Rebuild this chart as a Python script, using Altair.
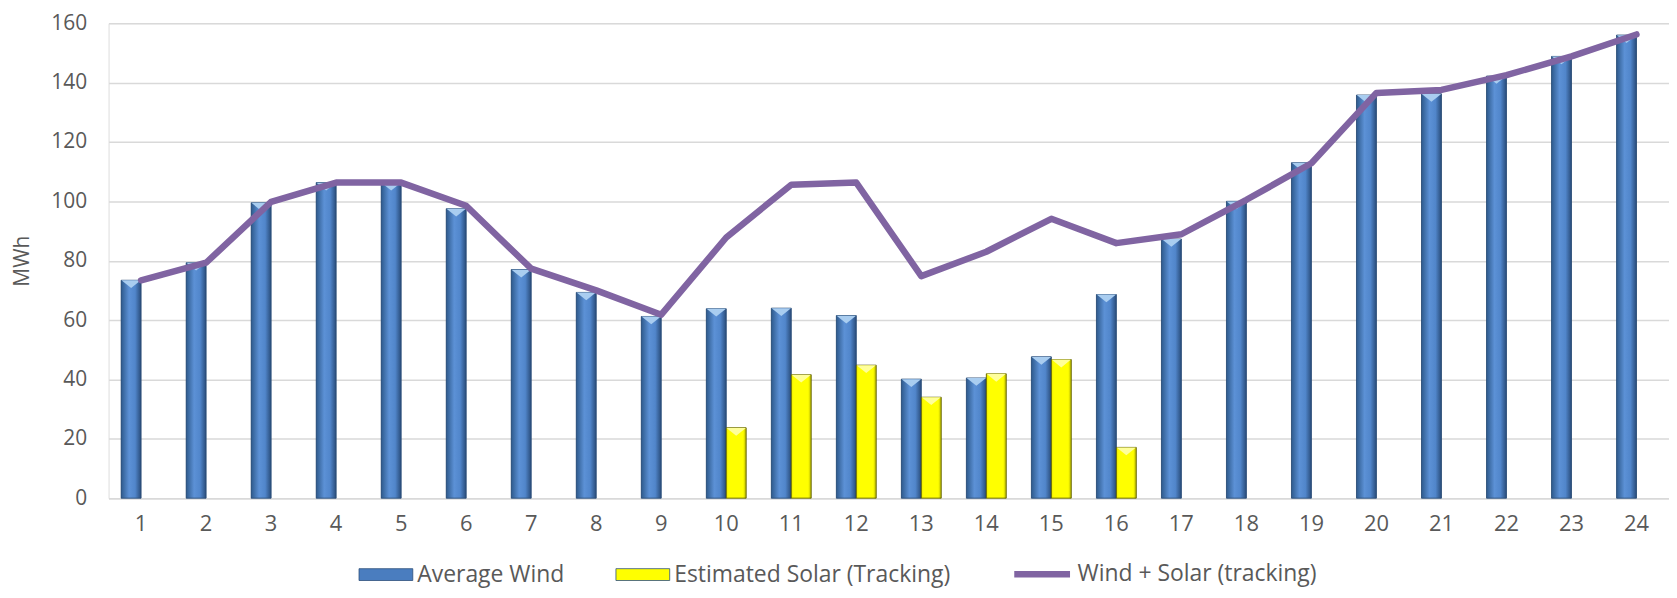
import altair as alt
import pandas as pd

hours = list(range(1, 25))
wind = [73.4, 79.3, 99.5, 106.3, 106.3, 97.5, 77.0, 69.3, 61.2, 63.8, 64.0, 61.5,
        40.1, 40.5, 47.6, 68.6, 87.3, 100.0, 113.0, 135.8, 136.2, 142.2, 148.8, 156.0]
solar_hours = [10, 11, 12, 13, 14, 15, 16]
solar = [23.7, 41.6, 44.8, 34.0, 41.9, 46.7, 17.1]
combined = [73.4, 79.3, 99.8, 106.3, 106.3, 98.5, 77.3, 70.0, 61.8, 87.8, 105.6, 106.3,
            74.8, 83.0, 94.1, 85.9, 88.9, 100.5, 112.8, 136.5, 137.5, 142.5, 148.8, 156.2]

W = "Average Wind"
S = "Estimated Solar (Tracking)"
L = "Wind + Solar (tracking)"

bars = pd.DataFrame(
    {"hour": hours + solar_hours,
     "series": [W] * len(hours) + [S] * len(solar_hours),
     "value": wind + solar}
)
line_df = pd.DataFrame({"hour": hours, "value": combined, "name": [L] * len(hours)})

FONT = "Open Sans"
TXT = "#595959"
LEG_Y = 526
LEG_FS = 23

x_enc = alt.X("hour:O", scale=alt.Scale(paddingInner=0.387, paddingOuter=0.1935),
              axis=alt.Axis(labelAngle=0, domainColor="#d9d9d9", domainWidth=1.5, ticks=False,
                            labelFontSize=22, labelColor=TXT, labelPadding=15, title=None,
                            labelFont=FONT))
xoff = alt.XOffset("series:N", scale=alt.Scale(domain=[W, S], paddingInner=0, paddingOuter=0))
y_enc = alt.Y("value:Q", scale=alt.Scale(domain=[0, 160]),
              axis=alt.Axis(values=list(range(0, 161, 20)), grid=True, gridColor="#d9d9d9",
                            gridWidth=1.5, domain=False, ticks=False, labelFontSize=21,
                            labelColor=TXT, labelPadding=22, labelFont=FONT, title="MWh",
                            titleFontSize=21, titleFontWeight="normal", titleColor=TXT,
                            titleFont=FONT, titlePadding=18))

wind_grad = alt.LinearGradient(
    gradient="linear", x1=0, x2=1, y1=0, y2=0,
    stops=[alt.GradientStop(color="#2e5a8c", offset=0),
           alt.GradientStop(color="#5c91d6", offset=0.4),
           alt.GradientStop(color="#5186cb", offset=0.7),
           alt.GradientStop(color="#294c7a", offset=1)])
solar_grad = alt.LinearGradient(
    gradient="linear", x1=0, x2=1, y1=0, y2=0,
    stops=[alt.GradientStop(color="#e8e800", offset=0),
           alt.GradientStop(color="#ffff00", offset=0.12),
           alt.GradientStop(color="#ffff00", offset=0.85),
           alt.GradientStop(color="#b5b500", offset=1)])

base = alt.Chart(bars)

legend_bars = base.mark_bar().encode(
    x=x_enc, xOffset=xoff, y=y_enc,
    color=alt.Color("series:N", scale=alt.Scale(domain=[W, S], range=["#4a7dbf", "#ffff00"]),
                    legend=alt.Legend(orient="none", legendX=251, legendY=LEG_Y,
                                      direction="horizontal", title=None,
                                      symbolType="M-1,-0.22H1V0.22H-1Z", symbolSize=2916,
                                      symbolStrokeColor="#2d4f7a", symbolStrokeWidth=0.8,
                                      labelFontSize=LEG_FS, labelFont=FONT, labelColor=TXT,
                                      labelLimit=0, labelOffset=4, columnPadding=49)),
)

wind_bars = base.transform_filter(alt.datum.series == W).mark_bar(
    fill=wind_grad, stroke="#2a4a72", strokeWidth=0.8
).encode(x=x_enc, xOffset=xoff, y=y_enc)

solar_bars = base.transform_filter(alt.datum.series == S).mark_bar(
    fill=solar_grad, stroke="#4a4a00", strokeWidth=0.8
).encode(x=x_enc, xOffset=xoff, y=y_enc)

bevel_w = base.transform_filter(alt.datum.series == W).mark_point(
    shape="M-1,-0.4L1,-0.4L0,0.4Z", filled=True, size=380, color="#a9cdf0",
    opacity=1, yOffset=4, strokeWidth=0
).encode(x=x_enc, xOffset=xoff, y=y_enc)

bevel_s = base.transform_filter(alt.datum.series == S).mark_point(
    shape="M-1,-0.4L1,-0.4L0,0.4Z", filled=True, size=380, color="#ffff9a",
    opacity=1, yOffset=4, strokeWidth=0
).encode(x=x_enc, xOffset=xoff, y=y_enc)

line = alt.Chart(line_df).mark_line(strokeWidth=6.5, strokeJoin="round", strokeCap="round").encode(
    x=x_enc, y=y_enc,
    color=alt.Color("name:N", scale=alt.Scale(domain=[L], range=["#8064a2"]),
                    legend=alt.Legend(orient="none", legendX=906, legendY=LEG_Y - 4,
                                      direction="horizontal", title=None,
                                      symbolType="stroke", symbolSize=3136,
                                      symbolStrokeWidth=6.5,
                                      labelFontSize=LEG_FS, labelFont=FONT, labelColor=TXT,
                                      labelLimit=0, labelOffset=4)),
)

chart = alt.layer(legend_bars, wind_bars, solar_bars, bevel_w, bevel_s, line).resolve_scale(
    color="independent"
).properties(
    width=1567, height=477,
    autosize=alt.AutoSizeParams(type="none"),
    padding={"left": 101, "top": 14, "right": 0, "bottom": 91},
).configure_view(stroke=None).configure(font=FONT)

chart.save("out.html", embed_options={"renderer": "svg", "actions": False})
